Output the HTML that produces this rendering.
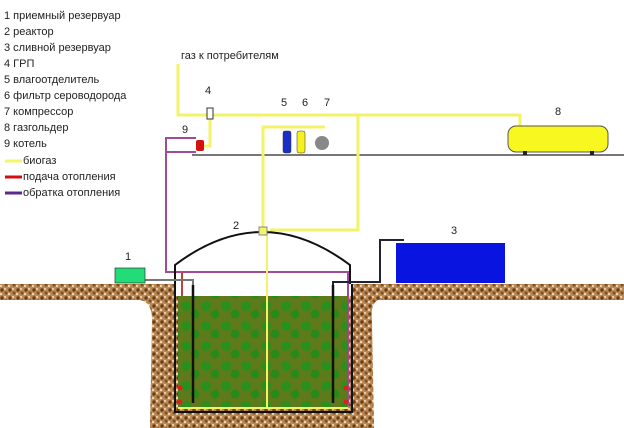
<!DOCTYPE html>
<html><head><meta charset="utf-8"><style>
body{margin:0;background:#fff;width:624px;height:428px;overflow:hidden}
svg{display:block}
text{font-family:"Liberation Sans",sans-serif;fill:#222}
</style></head><body>
<svg width="624" height="428" viewBox="0 0 624 428">
<defs>
<pattern id="soil" width="8" height="8" patternUnits="userSpaceOnUse">
<rect width="8" height="8" fill="#b98a55"/>
<circle cx="2" cy="2" r="1.7" fill="#6e3e14"/><circle cx="6" cy="5" r="1.5" fill="#7f4c1f"/>
<circle cx="5" cy="1" r="0.9" fill="#fff"/><circle cx="1" cy="6" r="1" fill="#f5ecdc"/>
</pattern>
<pattern id="slurry" width="20" height="20" patternUnits="userSpaceOnUse">
<rect width="20" height="20" fill="#5f7a1a"/>
<circle cx="6" cy="6" r="5" fill="#2a8f1c"/><circle cx="15" cy="14" r="4.5" fill="#278a1a"/>
</pattern>
</defs>
<g font-size="11">
<text x="4" y="19">1 приемный резервуар</text>
<text x="4" y="35">2 реактор</text>
<text x="4" y="51">3 сливной резервуар</text>
<text x="4" y="67">4 ГРП</text>
<text x="4" y="83">5 влагоотделитель</text>
<text x="4" y="99">6 фильтр сероводорода</text>
<text x="4" y="115">7 компрессор</text>
<text x="4" y="131">8 газгольдер</text>
<text x="4" y="147">9 котель</text>
<text x="23" y="164">биогаз</text>
<text x="23" y="180">подача отопления</text>
<text x="23" y="196">обратка отопления</text>
<text x="181" y="59">газ к потребителям</text>
<text x="205" y="94">4</text><text x="182" y="133">9</text>
<text x="281" y="106">5</text><text x="302" y="106">6</text><text x="324" y="106">7</text>
<text x="555" y="115">8</text><text x="233" y="229">2</text><text x="125" y="260">1</text><text x="451" y="234">3</text>
</g>
<line x1="5" y1="161" x2="22" y2="161" stroke="#f5f56a" stroke-width="3"/>
<line x1="5" y1="177" x2="22" y2="177" stroke="#d01010" stroke-width="3"/>
<line x1="5" y1="193" x2="22" y2="193" stroke="#5a2a8a" stroke-width="3"/>
<line x1="192" y1="155" x2="624" y2="155" stroke="#777" stroke-width="2"/>
<g fill="none" stroke="#f3f36a" stroke-width="3">
<polyline points="178,64 178,115 520,115 520,128"/>
<polyline points="210,119 210,146 204,146"/>
<polyline points="325,127 263,127 263,232"/>
<polyline points="358,115 358,230 270,230"/>
</g>
<rect x="207" y="108" width="6" height="11" fill="#fff" stroke="#333"/>
<rect x="196" y="140" width="8" height="11" rx="2" fill="#d41010"/>
<rect x="283" y="131" width="8" height="22" rx="2" fill="#1a2ec8" stroke="#333" stroke-width="0.5"/>
<rect x="297" y="131" width="8" height="22" rx="2" fill="#f5f020" stroke="#333" stroke-width="0.5"/>
<circle cx="322" cy="143" r="7" fill="#888"/>
<rect x="508" y="126" width="100" height="26" rx="8" fill="#f8f820" stroke="#555"/>
<rect x="523" y="151" width="4" height="4" fill="#222"/><rect x="590" y="151" width="4" height="4" fill="#222"/>
<path d="M0,284 L624,284 L624,300 L378,300 Q370,305 372,320 L374,428 L150,428 L152,320 Q152,302 140,300 L0,300 Z" fill="url(#soil)"/>
<rect x="174" y="262" width="178" height="34" fill="#fff"/>
<g fill="none" stroke="#a04a9a" stroke-width="2">
<polyline points="196,138 166,138 166,272 348,272 348,405"/>
<polyline points="196,152 166,152"/>
<line x1="182" y1="272" x2="182" y2="405" stroke="#c04040"/>
</g>
<rect x="178" y="296" width="170" height="112" fill="url(#slurry)"/>
<line x1="267" y1="230" x2="267" y2="408" stroke="#f3f36a" stroke-width="2"/>
<line x1="178" y1="408" x2="348" y2="408" stroke="#f3f36a" stroke-width="2"/>
<path d="M175,284 L175,265 Q262,199 350,265 L350,284" fill="none" stroke="#111" stroke-width="2"/>
<rect x="259" y="227" width="8" height="8" fill="#f3f36a" stroke="#888"/>
<polyline points="175,284 175,412 352,412 352,284" fill="none" stroke="#111" stroke-width="2"/>
<line x1="193" y1="285" x2="193" y2="403" stroke="#111" stroke-width="2.5"/>
<line x1="333" y1="285" x2="333" y2="403" stroke="#111" stroke-width="2.5"/>
<polyline points="145,280 193,280 193,285" fill="none" stroke="#777" stroke-width="2"/>
<polyline points="333,285 333,282 380,282 380,240 404,240" fill="none" stroke="#223" stroke-width="2"/>
<circle cx="180" cy="388" r="2.5" fill="#e02020"/><circle cx="180" cy="402" r="2.5" fill="#e02020"/>
<circle cx="346" cy="388" r="2.5" fill="#e02020"/><circle cx="346" cy="402" r="2.5" fill="#e02020"/>
<rect x="396" y="243" width="109" height="40" fill="#0a14e0"/>
<rect x="115" y="268" width="30" height="15" fill="#22dd77" stroke="#333" stroke-width="0.7"/>
</svg>
</body></html>
